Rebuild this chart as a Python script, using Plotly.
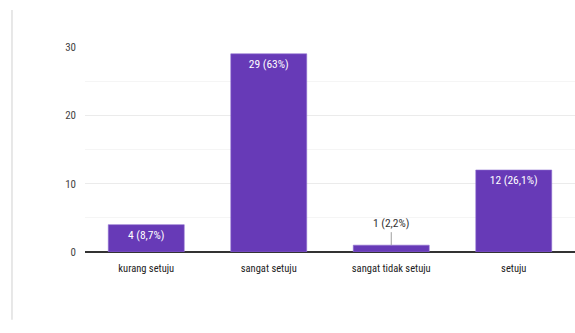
import plotly.graph_objects as go

categories = ["kurang setuju", "sangat setuju", "sangat tidak setuju", "setuju"]
counts = [4, 29, 1, 12]
labels = ["4 (8,7%)", "29 (63%)", "1 (2,2%)", "12 (26,1%)"]
inside_min = 3  # bars shorter than this get an outside label with a leader line

FONT = "Roboto Condensed, Roboto, Arial, sans-serif"

inside_text = [t if v >= inside_min else "" for t, v in zip(labels, counts)]

fig = go.Figure()
fig.add_trace(go.Bar(
    x=categories, y=counts, text=inside_text,
    textposition="inside", insidetextanchor="end",
    textfont=dict(color="white", size=11.5, family=FONT),
    marker=dict(color="#673ab7", line=dict(color="#8e6fd0", width=0.6)),
    width=0.62, cliponaxis=False, textangle=0,
))

for c, v, t in zip(categories, counts, labels):
    if v < inside_min:
        fig.add_annotation(x=c, y=v, text=t, showarrow=True, arrowhead=0,
                           arrowwidth=1, arrowcolor="#9e9e9e", ax=0, ay=-13,
                           font=dict(size=11.5, color="#333333", family=FONT),
                           yanchor="bottom")

fig.add_shape(type="line", xref="paper", yref="paper", x0=-0.149, x1=-0.149,
              y0=-0.33, y1=1.18, line=dict(color="#e0e0e0", width=1.5))

fig.update_layout(
    width=575, height=333,
    margin=dict(l=85, r=0, t=47, b=81),
    paper_bgcolor="white", plot_bgcolor="white",
    showlegend=False, bargap=0.38,
    font=dict(family=FONT, size=11, color="#444444"),
)
fig.update_xaxes(range=[-0.5, 3.5], showgrid=False, ticks="", showline=False,
                 ticklabelstandoff=8,
                 tickfont=dict(size=10.5, color="#222222", family=FONT))
fig.update_yaxes(range=[0, 30], tickvals=[0, 10, 20, 30], showgrid=True,
                 gridcolor="#ebebeb", gridwidth=1.2,
                 minor=dict(tickvals=[5, 15, 25], showgrid=True, gridcolor="#f5f5f5", gridwidth=1),
                 zeroline=True, zerolinecolor="#333333", zerolinewidth=1.5,
                 ticks="", ticklabelstandoff=8,
                 tickfont=dict(size=11, color="#444444", family=FONT))

fig.write_html("out.html")
